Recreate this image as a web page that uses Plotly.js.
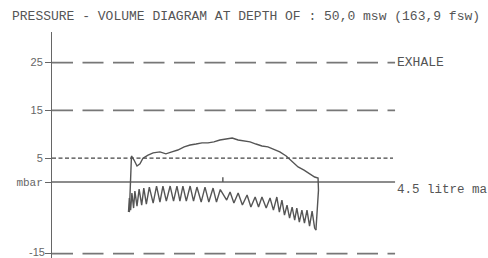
<!DOCTYPE html>
<html>
<head>
<meta charset="utf-8">
<script src="https://cdn.plot.ly/plotly-3.0.1.min.js"></script>
<style>html,body{margin:0;padding:0;background:#fff;}#chart{width:488px;height:258px;}</style>
</head>
<body>
<div id="chart"></div>
<script>
// Exhale branch (upper curve): volume (litre, relative) and pressure (mbar)
var exhaleV = [0.02, 0.05, 0.07, 0.13, 0.20, 0.27, 0.34, 0.46, 0.58, 0.74, 0.88, 1.02, 1.16, 1.31, 1.45, 1.59, 1.73, 1.87, 2.01, 2.15, 2.29, 2.44, 2.58, 2.72, 2.86, 3.00, 3.14, 3.28, 3.42, 3.56, 3.71, 3.85, 3.99, 4.13, 4.27, 4.38, 4.46, 4.47, 4.44, 4.41];
var exhaleP = [-6.3, 0.4, 5.45, 4.6, 3.35, 3.8, 5.0, 5.65, 6.1, 6.3, 5.9, 6.3, 6.7, 7.35, 7.75, 7.95, 8.2, 8.2, 8.4, 8.8, 9.0, 9.2, 8.8, 8.6, 8.4, 7.95, 7.55, 7.35, 6.9, 6.3, 5.45, 4.2, 3.15, 2.5, 1.7, 1.05, 0.85, -1.7, -5.9, -10.06];

// Inhale branch (lower oscillating curve)
var inhaleV = [0.00, 0.02, 0.05, 0.08, 0.12, 0.15, 0.20, 0.25, 0.31, 0.36, 0.42, 0.49, 0.58, 0.66, 0.74, 0.81, 0.89, 0.98, 1.06, 1.14, 1.21, 1.28, 1.36, 1.45, 1.53, 1.61, 1.71, 1.80, 1.89, 1.99, 2.07, 2.16,
               2.31, 2.39, 2.48, 2.58, 2.68, 2.79, 2.88, 2.98, 3.06, 3.14, 3.24, 3.33, 3.41, 3.49, 3.55, 3.61, 3.67, 3.73, 3.79, 3.85, 3.91, 3.96, 4.02, 4.08, 4.14, 4.20, 4.26, 4.32, 4.38, 4.41];
var inhaleP = [-6.29, -3.35, -5.87, -2.31, -5.45, -1.89, -5.03, -1.47, -4.82, -1.26, -4.61, -1.05, -4.40, -0.84, -4.19, -0.84, -3.98, -0.84, -3.98, -0.84, -3.98, -0.84, -3.98, -0.84, -3.98, -1.05, -4.19, -1.05, -4.19, -1.26, -4.19, -1.57,
               -3.77, -2.10, -4.40, -2.31, -4.82, -2.72, -5.24, -3.14, -5.24, -3.14, -5.45, -3.35, -5.87, -3.14, -6.29, -3.77, -6.92, -4.82, -7.55, -5.24, -7.96, -5.45, -8.38, -5.87, -8.59, -5.87, -9.22, -6.08, -9.64, -10.06];

// small marker tick on the zero line
var markV = [2.22, 2.22];
var markP = [0, 1.0];

// reference levels
var dashedLevels = [25, 15, -15];
var dottedLevel = 5;
var zeroLevel = 0;

// y tick labels (the bottom one is drawn as an annotation so it stays inside the frame)
var tickVals = [25, 15, 5, 0, -15];
var tickText = ["25", "15", "5", "<span style=\"font-family:'Liberation Mono', monospace\">mbar</span>", ""];
var bottomTickValue = -15;
var bottomTickText = "-15";

var titleText = "PRESSURE - VOLUME DIAGRAM AT DEPTH OF : 50,0 msw (163,9 fsw)";
var exhaleLabel = "EXHALE";
var volumeLabel = "4.5 litre ma";

var curveColor = '#555';
var traces = [
  {x: exhaleV, y: exhaleP, type: 'scatter', mode: 'lines', line: {color: curveColor, width: 1.4}, hoverinfo: 'skip'},
  {x: inhaleV, y: inhaleP, type: 'scatter', mode: 'lines', line: {color: curveColor, width: 1.4}, hoverinfo: 'skip'},
  {x: markV, y: markP, type: 'scatter', mode: 'lines', line: {color: curveColor, width: 1.4}, hoverinfo: 'skip'}
];

var shapes = [];
dashedLevels.forEach(function (lv) {
  shapes.push({type: 'line', xref: 'paper', yref: 'y', x0: 0, x1: 1.009, y0: lv, y1: lv,
    line: {color: '#777', width: 1.8, dash: '21px,9.5px'}, layer: 'below'});
});
shapes.push({type: 'line', xref: 'paper', yref: 'y', x0: 0, x1: 1.003, y0: dottedLevel, y1: dottedLevel,
  line: {color: '#444', width: 1.3, dash: '4px,2.5px'}, layer: 'below'});
shapes.push({type: 'line', xref: 'paper', yref: 'y', x0: 0, x1: 1.009, y0: zeroLevel, y1: zeroLevel,
  line: {color: '#666', width: 1.5}, layer: 'below'});

var monoFont = "'Liberation Mono', 'DejaVu Sans Mono', monospace";
var tickFont = {family: "'Liberation Sans', Arial, sans-serif", size: 11, color: '#666'};

var layout = {
  width: 488, height: 258,
  margin: {l: 52, r: 96, t: 32, b: 0, pad: 0},
  paper_bgcolor: '#fff', plot_bgcolor: '#fff',
  showlegend: false,
  title: {text: titleText, x: 12 / 488, xanchor: 'left', xref: 'container', y: 1 - 15 / 258, yanchor: 'middle', yref: 'container',
    font: {family: monoFont, size: 13, color: '#555'}},
  xaxis: {range: [-1.8, 6.2], visible: false, fixedrange: true},
  yaxis: {range: [-15.9, 31.4], showgrid: false, zeroline: false, showline: true, linecolor: '#666', linewidth: 1,
    ticks: 'outside', ticklen: 6, tickcolor: '#666', tickwidth: 1,
    tickvals: tickVals, ticktext: tickText,
    tickfont: tickFont, fixedrange: true},
  shapes: shapes,
  annotations: [
    {text: exhaleLabel, xref: 'paper', yref: 'y', x: 1.0088, y: 25, xanchor: 'left', yanchor: 'middle', showarrow: false,
      font: {family: monoFont, size: 13, color: '#555'}},
    {text: volumeLabel, xref: 'paper', yref: 'y', x: 1.0088, y: -1.7, xanchor: 'left', yanchor: 'middle', showarrow: false,
      font: {family: monoFont, size: 12.5, color: '#555'}},
    {text: bottomTickText, xref: 'paper', yref: 'y', x: 0, y: bottomTickValue, xanchor: 'right', yanchor: 'middle', xshift: -6, yshift: 2,
      showarrow: false, borderpad: 0, font: tickFont}
  ]
};

Plotly.newPlot('chart', traces, layout, {displayModeBar: false, staticPlot: true});
</script>
</body>
</html>
